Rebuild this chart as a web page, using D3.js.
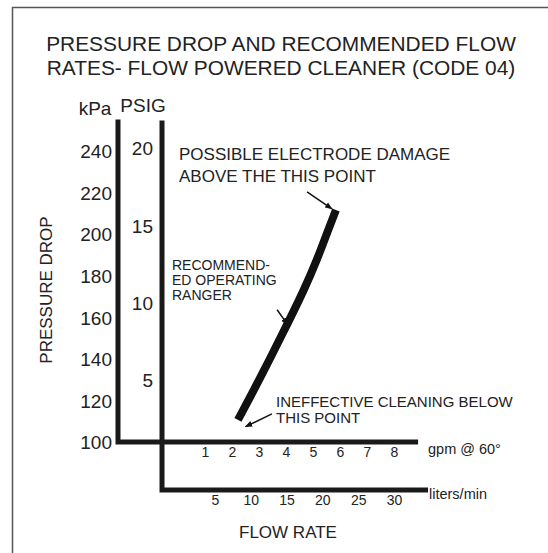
<!DOCTYPE html>
<html lang="en">
<head>
  <meta charset="utf-8">
  <title>Pressure drop and recommended flow rates</title>
  <style>
    body { margin: 0; background: #fff; }
    svg { display: block; }
    text { font-family: "Liberation Sans", Arial, sans-serif; fill: #222; }
    .axis-line { stroke: #1a1a1a; stroke-width: 5; fill: none; stroke-linecap: square; }
    .curve { stroke: #111; stroke-width: 8; fill: none; stroke-linecap: butt; }
    .arrow { stroke: #111; stroke-width: 1.5; fill: none; }
  </style>
</head>
<body>
<div id="chart"></div>

<script src="https://d3js.org/d3.v7.min.js"></script>
<script>
// data
const kpaTicks = [100, 120, 140, 160, 180, 200, 220, 240];
const psigTicks = [5, 10, 15, 20];
const gpmTicks = [1, 2, 3, 4, 5, 6, 7, 8];
const lpmTicks = [5, 10, 15, 20, 25, 30];

// recommended operating curve, gpm vs kPa
const curveGpm = [2.22, 2.85, 3.44, 4.07, 4.67, 5.19, 5.52, 5.85];
const curveKpa = [110.6, 126.0, 140.9, 157.3, 173.1, 189.0, 200.6, 211.6];

const titleLines = ['PRESSURE DROP AND RECOMMENDED FLOW', 'RATES- FLOW POWERED CLEANER (CODE 04)'];

const width = 548, height = 553;

const svg = d3.select('#chart')
  .append('svg')
  .attr('width', width)
  .attr('height', height);

// scales
const x = d3.scaleLinear().domain([0, 8]).range([178, 394]);
const xL = d3.scaleLinear().domain([0, 30]).range([179, 394]);
const y = d3.scaleLinear().domain([100, 240]).range([442, 151]);
const yP = d3.scaleLinear().domain([5, 20]).range([380, 148]);

// frame (only left and top edge show)
svg.append('path')
  .attr('d', `M12.5,${height} V7.5 H${width}`)
  .attr('fill', 'none')
  .attr('stroke', '#555')
  .attr('stroke-width', 1.5);

// title
svg.append('g')
  .selectAll('text')
  .data(titleLines)
  .join('text')
  .attr('x', 281)
  .attr('y', (d, i) => 51 + i * 24)
  .attr('text-anchor', 'middle')
  .style('font-size', '20.9px')
  .text(d => d);

// axis L shapes
const kpaAxisX = 118, psigAxisX = 162;
svg.append('path')
  .attr('class', 'axis-line')
  .attr('d', `M${kpaAxisX},${y(254)} V${y(100)} H${x(8.8)}`);
svg.append('path')
  .attr('class', 'axis-line')
  .attr('d', `M${psigAxisX},${y(253.5)} V490 H${xL(34.4)}`);

function styleTicks(g, size) {
  g.select('.domain').remove();
  g.selectAll('text')
    .style('font-size', size + 'px')
    .style('font-family', '"Liberation Sans", Arial, sans-serif')
    .attr('fill', '#222');
}

// kPa axis
const kpaAxis = svg.append('g')
  .attr('transform', `translate(${kpaAxisX - 5},0)`)
  .call(d3.axisLeft(y).tickValues(kpaTicks).tickSize(0).tickPadding(1));
styleTicks(kpaAxis, 19);
kpaAxis.selectAll('text').attr('dy', '0.36em');

// PSIG axis
const psigAxis = svg.append('g')
  .attr('transform', `translate(${psigAxisX - 7},0)`)
  .call(d3.axisLeft(yP).tickValues(psigTicks).tickSize(0).tickPadding(2));
styleTicks(psigAxis, 19);
psigAxis.selectAll('text').attr('dy', '0.36em');

// gpm axis labels
const gpmAxis = svg.append('g')
  .attr('transform', 'translate(0,447)')
  .call(d3.axisBottom(x).tickValues(gpmTicks).tickSize(0).tickPadding(0));
styleTicks(gpmAxis, 14);

// liters/min axis labels
const lpmAxis = svg.append('g')
  .attr('transform', 'translate(0,495)')
  .call(d3.axisBottom(xL).tickValues(lpmTicks).tickSize(0).tickPadding(0));
styleTicks(lpmAxis, 14);

// unit labels
svg.append('text').attr('x', 95).attr('y', 115).attr('text-anchor', 'middle')
  .style('font-size', '19px').text('kPa');
svg.append('text').attr('x', 143).attr('y', 112).attr('text-anchor', 'middle')
  .style('font-size', '19px').text('PSIG');
svg.append('text').attr('x', 428).attr('y', 454)
  .style('font-size', '14.5px').text('gpm @ 60°');
svg.append('text').attr('x', 429).attr('y', 499)
  .style('font-size', '14.5px').text('liters/min');
svg.append('text').attr('x', 288).attr('y', 538).attr('text-anchor', 'middle')
  .style('font-size', '17px').text('FLOW RATE');
svg.append('text')
  .attr('transform', 'translate(52,290) rotate(-90)')
  .attr('text-anchor', 'middle')
  .style('font-size', '17px')
  .text('PRESSURE DROP');

// the curve
const curveData = curveGpm.map((g, i) => ({ gpm: g, kpa: curveKpa[i] }));
const line = d3.line()
  .x(d => x(d.gpm))
  .y(d => y(d.kpa))
  .curve(d3.curveBasis);
svg.append('path')
  .datum(curveData)
  .attr('class', 'curve')
  .attr('d', line);

// arrowhead
svg.append('defs').append('marker')
  .attr('id', 'head')
  .attr('viewBox', '0 0 10 10')
  .attr('refX', 9).attr('refY', 5)
  .attr('markerWidth', 5).attr('markerHeight', 5)
  .attr('markerUnits', 'strokeWidth')
  .attr('orient', 'auto')
  .append('path')
  .attr('d', 'M0,1 L10,5 L0,9 Z')
  .attr('fill', '#111');

// annotation arrows, in chart units
const arrows = [
  { from: [4.78, 220.3], to: [5.70, 212.2] },
  { from: [3.67, 163.6], to: [4.06, 156.5] },
  { from: [3.48, 113.5], to: [2.50, 107.4] }
];
svg.append('g')
  .selectAll('line')
  .data(arrows)
  .join('line')
  .attr('class', 'arrow')
  .attr('x1', d => x(d.from[0])).attr('y1', d => y(d.from[1]))
  .attr('x2', d => x(d.to[0])).attr('y2', d => y(d.to[1]))
  .attr('marker-end', 'url(#head)');

// annotation text
function block(lines, x0, y0, step, size) {
  svg.append('g')
    .selectAll('text')
    .data(lines)
    .join('text')
    .attr('x', x0)
    .attr('y', (d, i) => y0 + i * step)
    .style('font-size', size + 'px')
    .text(d => d);
}
block(['POSSIBLE ELECTRODE DAMAGE', 'ABOVE THE THIS POINT'], 179, 160, 22, 17);
block(['RECOMMEND-', 'ED OPERATING', 'RANGER'], 172, 270, 15, 14);
block(['INEFFECTIVE CLEANING BELOW', 'THIS POINT'], 276, 407, 16, 15);
</script>
</body>
</html>
